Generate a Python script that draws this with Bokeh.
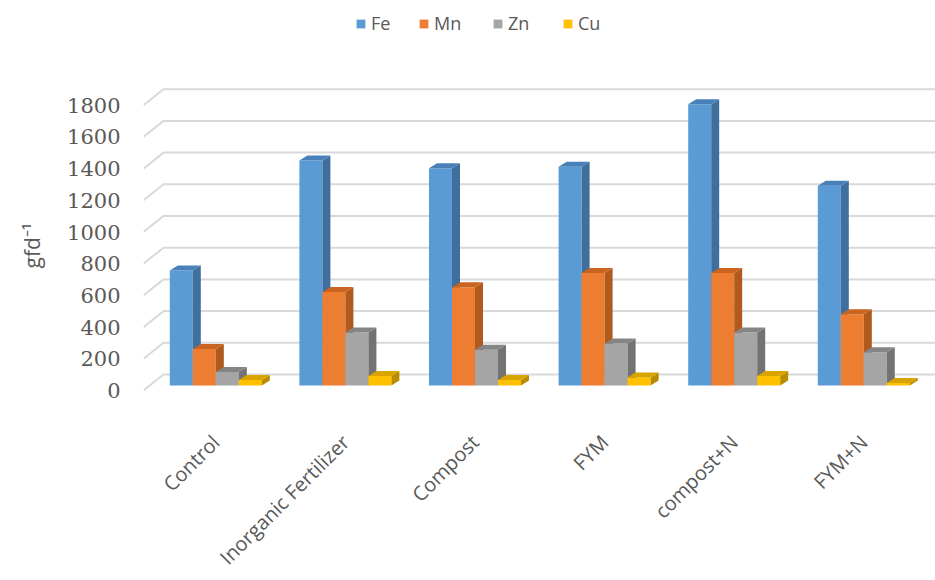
import math

from bokeh.plotting import figure
from bokeh.models import (Range1d, LinearAxis, FixedTicker, Legend, LegendItem,
                          Title, ColumnDataSource)
from bokeh.embed import file_html
from bokeh.resources import INLINE

# ---- data -------------------------------------------------------------
treatments = ["Control", "Inorganic Fertilizer", "Compost", "FYM", "compost+N", "FYM+N"]
fe = [725, 1420, 1370, 1380, 1775, 1260]
mn = [230, 590, 620, 710, 710, 450]
zn = [85, 335, 225, 265, 335, 210]
cu = [35, 60, 35, 50, 60, 15]
series_names = ["Fe", "Mn", "Zn", "Cu"]
y_ticks = [0, 200, 400, 600, 800, 1000, 1200, 1400, 1600, 1800]
y_title = "gfd\u207b\u00b9"

# ---- look -------------------------------------------------------------
front_colors = ["#5B9BD5", "#ED7D31", "#A5A5A5", "#FFC000"]
side_colors = ["#3F6F9D", "#B05A1E", "#737373", "#B98C00"]
top_colors = ["#4880B8", "#C96520", "#858585", "#D9A400"]
TEXT = "#595959"
GRID = "#D9D9D9"

# ---- layout (pixels) --------------------------------------------------
W = 935
FRAME_LEFT = 143            # left border holding the value axis
FRAME_H = 400               # plot frame height, from the canvas top
PX_PER_GROUP = 129.6        # horizontal distance between treatments
PX_PER_UNIT = 0.1585        # vertical pixels per gfd-1 unit
FIRST_GROUP_PX = 215.3      # canvas x of the first treatment
ZERO_PX = 390               # canvas y of value 0 on the front edge
BAR_PX = 23                 # bar width
WALL_DX, WALL_DY = 20, 16   # floor depth (front edge -> back wall)
BAR_DX, BAR_DY = 8, 5       # depth of each bar
BAR_LIFT = 5                # bars stand a little behind the front edge

x0 = (FRAME_LEFT - FIRST_GROUP_PX) / PX_PER_GROUP
x1 = x0 + (W - FRAME_LEFT) / PX_PER_GROUP
y0 = -(FRAME_H - ZERO_PX) / PX_PER_UNIT
y1 = ZERO_PX / PX_PER_UNIT

def dx(px):
    return px / PX_PER_GROUP

def dy(px):
    return px / PX_PER_UNIT

p = figure(frame_width=W - FRAME_LEFT, frame_height=FRAME_H,
           x_range=Range1d(x0, x1), y_range=Range1d(y0, y1),
           x_axis_location=None, y_axis_location=None,
           min_border_left=FRAME_LEFT, min_border_right=0,
           min_border_top=0, min_border_bottom=180,
           toolbar_location=None, output_backend="svg",
           background_fill_color="white", border_fill_color="white")
p.outline_line_color = None
p.xgrid.visible = False
p.ygrid.visible = False

# value axis on the left
yax = LinearAxis(ticker=FixedTicker(ticks=y_ticks))
yax.axis_line_color = None
yax.major_tick_line_color = None
yax.minor_tick_line_color = None
yax.major_tick_out = 0
yax.major_tick_in = 0
yax.major_label_standoff = 23
yax.major_label_text_font = "DejaVu Serif"
yax.major_label_text_font_size = "21px"
yax.major_label_text_color = TEXT
p.add_layout(yax, "left")

# value-axis title, written upward, starting a little below the middle
ytitle = Title(text=y_title, align="left", offset=132, standoff=34,
               vertical_align="top",
               text_font="Open Sans", text_font_size="21px",
               text_font_style="normal", text_color=TEXT)
p.add_layout(ytitle, "left")

# category axis below the front edge, labels turned 45 degrees
cat_ticks = list(range(len(treatments)))
xax = LinearAxis(ticker=FixedTicker(ticks=cat_ticks))
xax.major_label_overrides = {t: name for t, name in zip(cat_ticks, treatments)}
xax.major_label_orientation = math.pi / 4
xax.axis_line_color = None
xax.major_tick_line_color = None
xax.minor_tick_line_color = None
xax.major_tick_out = 0
xax.major_tick_in = 0
xax.major_label_standoff = 38
xax.major_label_text_font = "Open Sans"
xax.major_label_text_font_size = "20px"
xax.major_label_text_color = TEXT
p.add_layout(xax, "below")

# gridlines: short slanted floor piece, then along the back wall
gx, gy = [], []
for v in y_ticks:
    gx.append([x0, x0 + dx(WALL_DX), x1])
    gy.append([v, v + dy(WALL_DY), v + dy(WALL_DY)])
p.multi_line(gx, gy, line_color=GRID, line_width=2)

# 3-D style bars: front face, right side and top for each series
w = dx(BAR_PX)
bdx, bdy = dx(BAR_DX), dy(BAR_DY)
base = dy(BAR_LIFT)
legend_renderers = []
for j, vals in enumerate([fe, mn, zn, cu]):
    lefts = [i - 2 * w + j * w for i in range(len(treatments))]
    rights = [l + w for l in lefts]
    tops = [base + v for v in vals]
    src = ColumnDataSource(dict(x=[l + w / 2 for l in lefts], top=tops,
                                bottom=[base] * len(vals)))
    front = p.vbar(x="x", top="top", bottom="bottom", width=w, source=src,
                   fill_color=front_colors[j], line_color=None)
    legend_renderers.append(front)
    side_x = [[r, r + bdx, r + bdx, r] for r in rights]
    side_y = [[base, base + bdy, t + bdy, t] for t in tops]
    p.patches(side_x, side_y, fill_color=side_colors[j], line_color=None)
    top_x = [[l, r, r + bdx, l + bdx] for l, r in zip(lefts, rights)]
    top_y = [[t, t, t + bdy, t + bdy] for t in tops]
    p.patches(top_x, top_y, fill_color=top_colors[j], line_color=None)

# legend across the top, one entry per series
legend_px = [355, 418, 492, 562]
for name, rend, lx in zip(series_names, legend_renderers, legend_px):
    lg = Legend(items=[LegendItem(label=name, renderers=[rend])],
                location=(lx - FRAME_LEFT, FRAME_H - 35),
                orientation="horizontal", padding=0, margin=0,
                glyph_width=11, glyph_height=11, label_height=11,
                label_standoff=5, spacing=0,
                border_line_color=None, background_fill_alpha=0,
                label_text_font="Open Sans", label_text_font_size="18px",
                label_text_color=TEXT)
    p.add_layout(lg, "center")

open("out.html", "w").write(file_html(p, INLINE))
